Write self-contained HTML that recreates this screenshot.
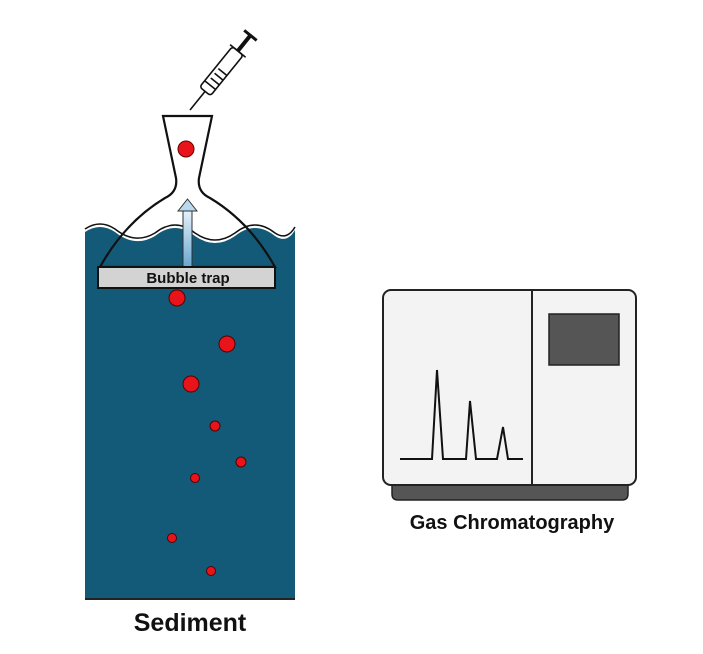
<!DOCTYPE html>
<html><head><style>body{margin:0;background:#fff}svg{display:block}</style></head><body>
<svg width="703" height="654" viewBox="0 0 703 654" xmlns="http://www.w3.org/2000/svg" font-family="Liberation Sans, sans-serif">
<defs><linearGradient id="ar" x1="0" y1="0" x2="0" y2="1"><stop offset="0" stop-color="#e8f3fb"/><stop offset="1" stop-color="#6aa6cf"/></linearGradient></defs>
<path d="M85,232 Q100,222 115,232 Q135,248 155,236 Q175,220 195,236 Q215,250 235,236 Q255,220 275,236 Q287,244 295,230 L295,598 L85,598 Z" fill="#135a78"/>
<path d="M85,229 Q100,219 115,229 Q135,245 155,233 Q175,217 195,233 Q215,247 235,233 Q255,217 275,233 Q287,241 295,227" fill="none" stroke="#111" stroke-width="1.5"/>
<line x1="85" y1="599" x2="295" y2="599" stroke="#222" stroke-width="2"/>
<path d="M163,116 L212,116 L199,178 Q197,192 210,198 Q228,208 240,220 Q220,232 200,222 Q188,216 176,222 Q158,232 138,222 Q150,208 165,198 Q178,192 176,178 Z" fill="#fff"/>
<path d="M163,116 L212,116 L199,178 Q197,192 210,198 Q250,222 275,267 L100,267 Q125,222 165,198 Q178,192 176,178 Z" fill="none" stroke="#111" stroke-width="2.2"/>
<circle cx="186" cy="149" r="8" fill="#e8141a" stroke="#600" stroke-width="1"/>
<rect x="183" y="210" width="9" height="57" fill="url(#ar)" stroke="#333" stroke-width="1"/>
<polygon points="178,211 187.5,199 197,211" fill="#b9d9ef" stroke="#333" stroke-width="1"/>
<rect x="98" y="267" width="177" height="21" fill="#d3d3d3" stroke="#111" stroke-width="2"/>
<text x="188" y="283" text-anchor="middle" font-size="15" font-weight="bold" fill="#111">Bubble trap</text>
<g transform="translate(190,110) rotate(-51)" stroke="#111" fill="#fff" stroke-width="1.6">
<line x1="0" y1="0" x2="24" y2="0"/>
<rect x="24" y="-7" width="52" height="14" rx="3"/>
<line x1="32" y1="-7" x2="32" y2="7"/><line x1="38" y1="-4" x2="38" y2="7"/><line x1="44" y1="-4" x2="44" y2="7"/><line x1="50" y1="-4" x2="50" y2="7"/>
<line x1="76" y1="-10" x2="76" y2="10"/>
<line x1="76" y1="0" x2="96" y2="0" stroke-width="4"/>
<line x1="96" y1="-8" x2="96" y2="8" stroke-width="3"/>
</g>
<g fill="#e8141a" stroke="#500" stroke-width="1">
<circle cx="177" cy="298" r="8"/><circle cx="227" cy="344" r="8"/><circle cx="191" cy="384" r="8"/>
<circle cx="215" cy="426" r="5"/><circle cx="241" cy="462" r="5"/><circle cx="195" cy="478" r="4.5"/>
<circle cx="172" cy="538" r="4.5"/><circle cx="211" cy="571" r="4.5"/></g>
<text x="190" y="631" text-anchor="middle" font-size="25" font-weight="bold" fill="#111">Sediment</text>
<path d="M392,484 L628,484 L628,494 Q628,500 622,500 L398,500 Q392,500 392,494 Z" fill="#555" stroke="#222" stroke-width="1.5"/>
<rect x="383" y="290" width="253" height="195" rx="8" fill="#f3f3f3" stroke="#222" stroke-width="2"/>
<line x1="532" y1="290" x2="532" y2="485" stroke="#222" stroke-width="2"/>
<rect x="549" y="314" width="70" height="51" fill="#555" stroke="#222" stroke-width="1.5"/>
<polyline points="400,459 432,459 437,370 443,459 466,459 470,401 476,459 497,459 503,427 508,459 523,459" fill="none" stroke="#111" stroke-width="2"/>
<text x="512" y="529" text-anchor="middle" font-size="20" font-weight="bold" fill="#111">Gas Chromatography</text>
</svg>
</body></html>
